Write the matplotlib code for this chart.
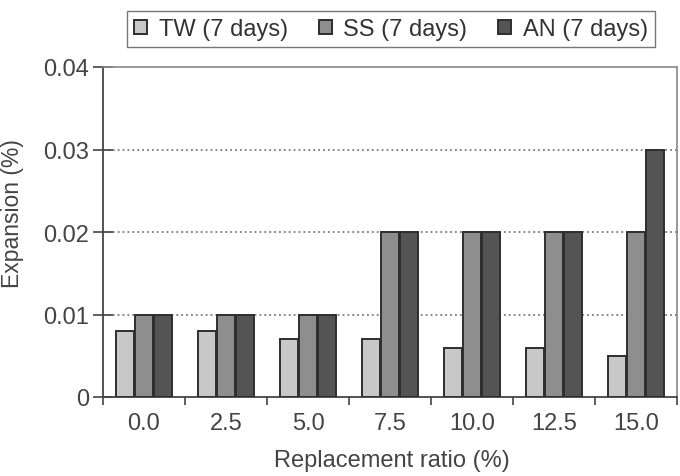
import matplotlib
matplotlib.use("Agg")
import matplotlib.pyplot as plt
import numpy as np

categories = ["0.0", "2.5", "5.0", "7.5", "10.0", "12.5", "15.0"]
tw = [0.008, 0.008, 0.007, 0.007, 0.006, 0.006, 0.005]
ss = [0.010, 0.010, 0.010, 0.020, 0.020, 0.020, 0.020]
an = [0.010, 0.010, 0.010, 0.020, 0.020, 0.020, 0.030]
series_names = ["TW (7 days)", "SS (7 days)", "AN (7 days)"]
colors = ["#c8c8c8", "#8e8e8e", "#545454"]

plt.rcParams['font.family'] = ['Liberation Sans', 'DejaVu Sans']
fig = plt.figure(figsize=(6.8, 4.77), dpi=100)
ax = fig.add_axes([103/680, 1-398/477, 574/680, 330/477])

x = np.arange(len(categories))
w = 0.22
step = 0.228
for i, (vals, name, c) in enumerate(zip([tw, ss, an], series_names, colors)):
    ax.bar(x + (i-1)*step, vals, width=w, color=c, edgecolor="#2e2e2e",
           linewidth=1.4, label=name, zorder=3)

ax.set_xlim(-0.5, len(categories)-0.5)
ax.set_ylim(0, 0.04)
ax.set_yticks([0, 0.01, 0.02, 0.03, 0.04])
ax.set_yticklabels(["0", "0.01", "0.02", "0.03", "0.04"])
ax.set_xticks(x)
ax.set_xticklabels(categories)
ax.set_xticks(np.arange(len(categories)+1)-0.5, minor=True)
ax.tick_params(axis='x', which='major', length=0, pad=11, labelsize=17, colors="#444444")
ax.tick_params(axis='x', which='minor', length=6, width=1.2, color="#444444")
ax.tick_params(axis='y', direction='inout', length=14, width=1.2, color="#444444",
               labelsize=17, labelcolor="#444444", pad=3)

for yv in [0.01, 0.02, 0.03]:
    ax.axhline(yv, color="#666666", linestyle=(0, (1.2, 2.0)), linewidth=1.1, zorder=1)

for s in ["left", "bottom"]:
    ax.spines[s].set_color("#444444")
    ax.spines[s].set_linewidth(1.3)
for s in ["top", "right"]:
    ax.spines[s].set_color("#888888")
    ax.spines[s].set_linewidth(1.2)

fig.text(392/680, 1-461/477, "Replacement ratio (%)", fontsize=17, color="#444444",
         ha="center", va="center")
fig.text(13/680, 1-214/477, "Expansion (%)", fontsize=16.5, color="#444444",
         ha="center", va="center", rotation=90)

leg = fig.legend(loc="center", bbox_to_anchor=(391/680, 1-30/477), ncol=3,
                 fontsize=17, frameon=True, fancybox=False, edgecolor="#555555",
                 handlelength=0.55, handleheight=0.55, handletextpad=0.5,
                 columnspacing=1.3, borderpad=0.3, borderaxespad=0)
leg.get_frame().set_linewidth(1.0)
for t in leg.get_texts():
    t.set_color("#333333")

fig.savefig("out.png", dpi=100)
